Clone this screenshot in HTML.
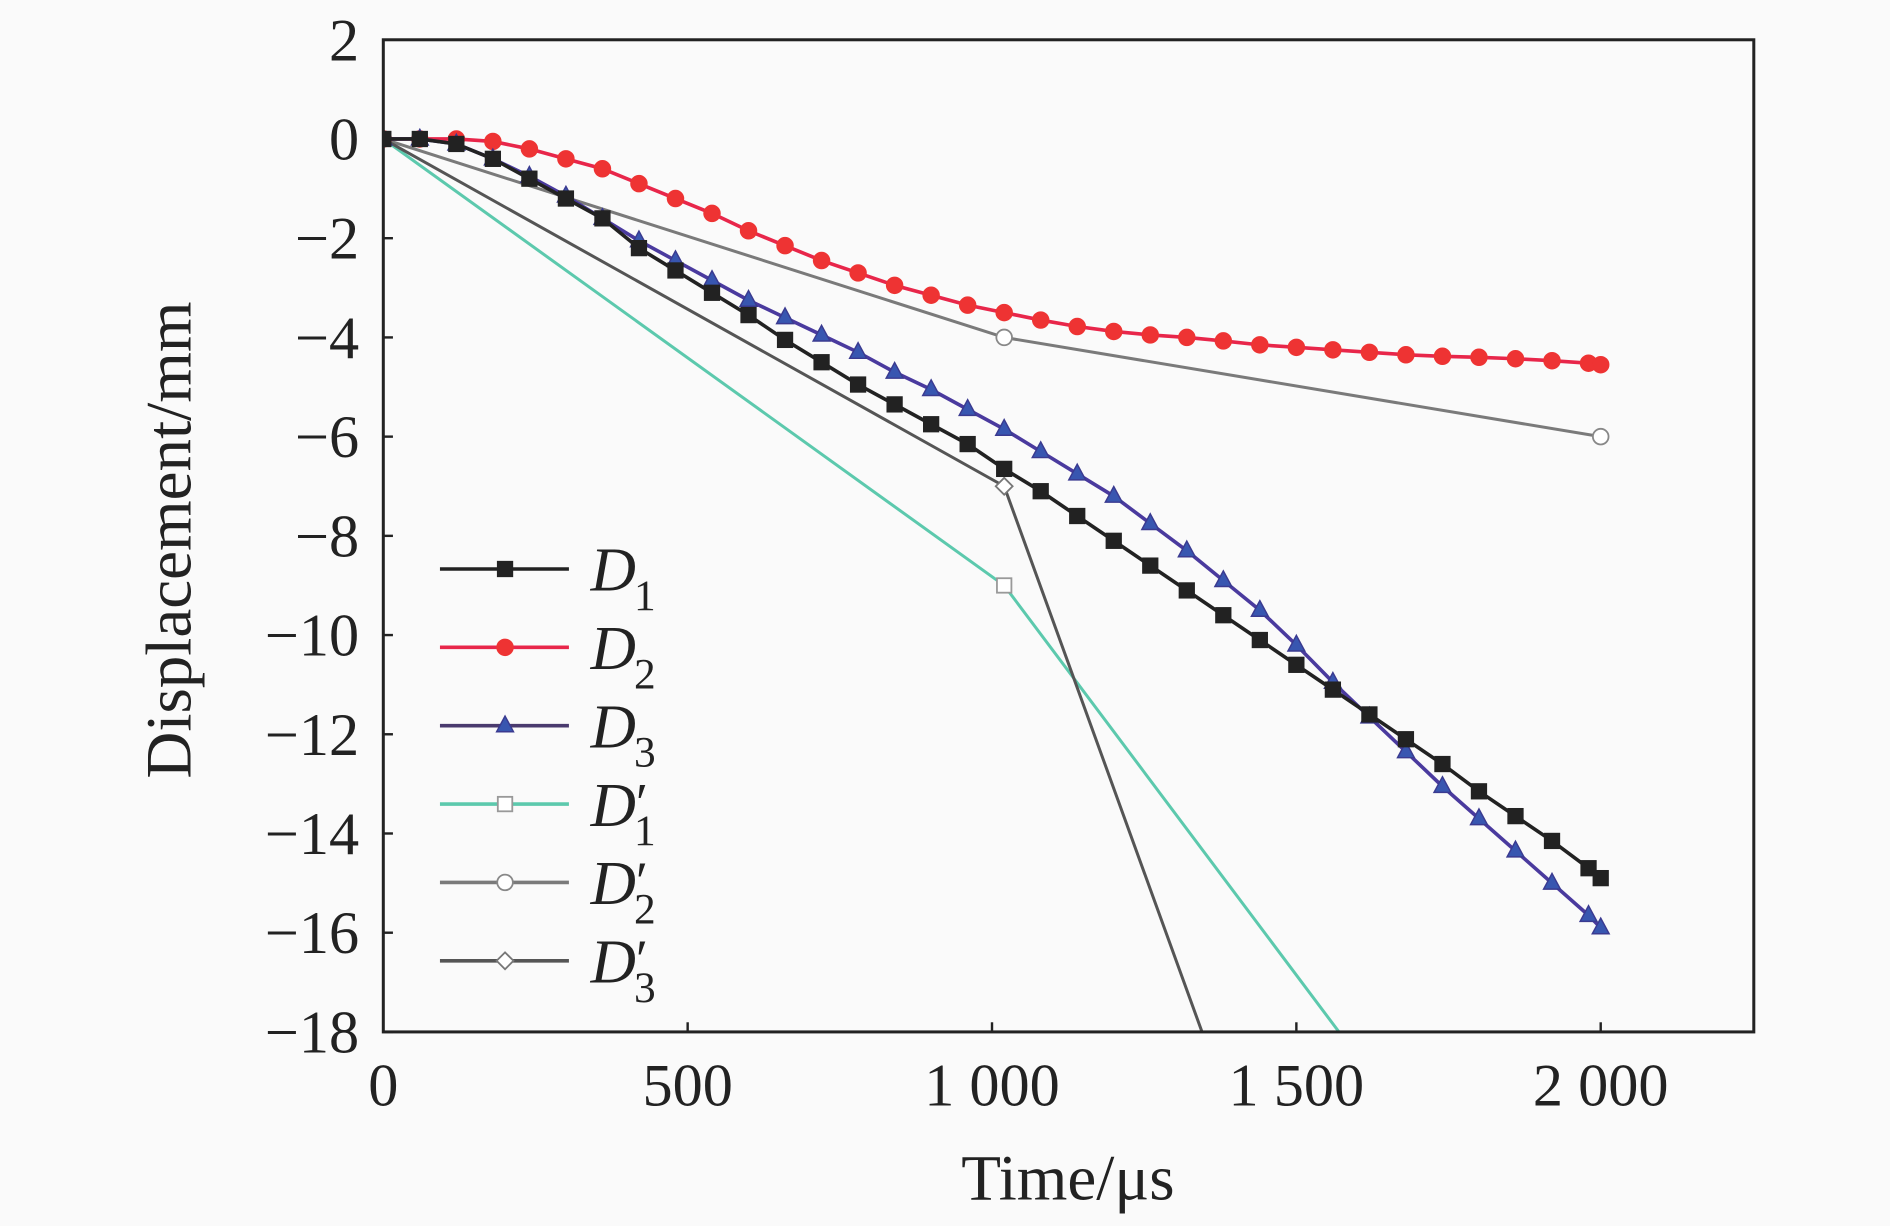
<!DOCTYPE html>
<html><head><meta charset="utf-8"><style>
html,body{margin:0;padding:0;background:#fafafa;}
svg{display:block;}
text{font-family:"Liberation Serif",serif;fill:#222;}
</style></head><body>
<svg id="chart" width="1890" height="1226" viewBox="0 0 1568 1017" preserveAspectRatio="none" xmlns="http://www.w3.org/2000/svg">
<rect width="1568" height="1017" fill="#fafafa"/>
<defs><clipPath id="pc"><rect x="318" y="33" width="1137" height="823"/></clipPath></defs>
<g id="series" clip-path="url(#pc)"></g>
<rect x="318" y="33" width="1137" height="823" fill="none" stroke="#222" stroke-width="2.5"/>
<g id="axes"></g>
<text transform="translate(158,448) rotate(-90)" font-size="54" text-anchor="middle">Displacement/mm</text>
<text x="886" y="995" font-size="54" text-anchor="middle">Time/μs</text>
<g id="legend"></g>
</svg>
<script>
const tD = [0,60,120,180,240,300,360,420,480,540,600,660,720,780,840,900,960,1020,1080,1140,1200,1260,1320,1380,1440,1500,1560,1620,1680,1740,1800,1860,1920,1980,2000];
const d1 = [0,0,-0.1,-0.4,-0.8,-1.2,-1.6,-2.2,-2.65,-3.1,-3.55,-4.05,-4.5,-4.95,-5.35,-5.75,-6.15,-6.65,-7.1,-7.6,-8.1,-8.6,-9.1,-9.6,-10.1,-10.6,-11.1,-11.6,-12.1,-12.6,-13.15,-13.65,-14.15,-14.7,-14.9];
const d2 = [0,0,0,-0.05,-0.2,-0.4,-0.6,-0.9,-1.2,-1.5,-1.85,-2.15,-2.45,-2.7,-2.95,-3.15,-3.35,-3.5,-3.65,-3.78,-3.88,-3.95,-4.0,-4.07,-4.15,-4.2,-4.25,-4.3,-4.35,-4.38,-4.4,-4.43,-4.47,-4.52,-4.55];
const d3 = [0,0,-0.1,-0.4,-0.75,-1.15,-1.6,-2.05,-2.45,-2.85,-3.25,-3.6,-3.95,-4.3,-4.7,-5.05,-5.45,-5.85,-6.3,-6.75,-7.2,-7.75,-8.3,-8.9,-9.5,-10.2,-10.95,-11.65,-12.35,-13.05,-13.7,-14.35,-15.0,-15.65,-15.9];
const t1p = [0,1020,1570]; const d1p = [0,-9,-18];
const t2p = [0,1020,2000]; const d2p = [0,-4,-6];
const t3p = [0,1020,1345]; const d3p = [0,-7,-18];
const xTicks = [0,500,1000,1500,2000];
const xTickLabels = ["0","500","1 000","1 500","2 000"];
const yTicks = [2,0,-2,-4,-6,-8,-10,-12,-14,-16,-18];
const yTickLabels = ["2","0","−2","−4","−6","−8","−10","−12","−14","−16","−18"];

const NS="http://www.w3.org/2000/svg";
const X = t => 318 + t*(1010/2000);
const Y = v => 33 + (2 - v)*(823/20);
function mk(tag, attrs, parent){const e=document.createElementNS(NS,tag);for(const k in attrs)e.setAttribute(k,attrs[k]);parent.appendChild(e);return e;}
const axes=document.getElementById('axes'), ser=document.getElementById('series'), leg=document.getElementById('legend');

xTicks.forEach((t,i)=>{
  const l=mk('line',{x1:X(t),x2:X(t),y1:856,y2:848,stroke:'#222','stroke-width':2},axes);
  
  
  const tx=mk('text',{x:X(t),y:917,'font-size':50,'text-anchor':'middle'},axes);
  tx.textContent=xTickLabels[i];
  
  
});
yTicks.forEach((v,i)=>{
  const l=mk('line',{x1:318,x2:326,y1:Y(v),y2:Y(v),stroke:'#222','stroke-width':2},axes);
  
  
  const tx=mk('text',{x:298,y:Y(v)+17,'font-size':50,'text-anchor':'end'},axes);
  tx.textContent=yTickLabels[i];
  
  
});

function marker(kind,x,y,fill,stroke,parent){
  let e;
  if(kind==='sq') e=mk('rect',{x:x-6,y:y-6,width:12,height:12,fill:fill,stroke:stroke,'stroke-width':1.5},parent);
  else if(kind==='ci') e=mk('circle',{cx:x,cy:y,r:6.5,fill:fill,stroke:stroke,'stroke-width':1.5},parent);
  else if(kind==='tr') e=mk('polygon',{points:`${x},${y-8} ${x+7},${y+5} ${x-7},${y+5}`,fill:fill,stroke:stroke,'stroke-width':1.2},parent);
  else if(kind==='di') e=mk('polygon',{points:`${x},${y-7} ${x+7},${y} ${x},${y+7} ${x-7},${y}`,fill:fill,stroke:stroke,'stroke-width':1.5},parent);
  else if(kind==='osq') e=mk('rect',{x:x-6,y:y-6,width:12,height:12,fill:fill,stroke:stroke,'stroke-width':1.5},parent);
  return e;
}
const series=[
 {name:'d1-prime',t:t1p,v:d1p,line:'#5cc9ad',w:2.5,m:'osq',mf:'#fff',ms:'#999',mi:[0,1]},
 {name:'d2-prime',t:t2p,v:d2p,line:'#7a7a7a',w:2.5,m:'ci',mf:'#fff',ms:'#888',mi:[0,1,2]},
 {name:'d3-prime',t:t3p,v:d3p,line:'#555',w:2.5,m:'di',mf:'#fff',ms:'#777',mi:[0,1]},
 {name:'d2',t:tD,v:d2,line:'#e8264a',w:3,m:'ci',mf:'#ee3333',ms:'#ee3333'},
 {name:'d3',t:tD,v:d3,line:'#4a3a9e',w:3,m:'tr',mf:'#3856b0',ms:'#3a3a90'},
 {name:'d1',t:tD,v:d1,line:'#222',w:3,m:'sq',mf:'#222',ms:'#222'}
];
series.forEach(s=>{
  const pl=mk('polyline',{points:s.t.map((t,i)=>X(t)+','+Y(s.v[i])).join(' '),fill:'none',stroke:s.line,'stroke-width':s.w},ser);
  
  
  const idx=s.mi||s.t.map((_,i)=>i);
  idx.forEach(i=>{
    const m=marker(s.m,X(s.t[i]),Y(s.v[i]),s.mf,s.ms,ser);
    
    
  });
});

const legItems=[
 {n:'d1',line:'#222',m:'sq',mf:'#222',ms:'#222',sub:'1',p:false},
 {n:'d2',line:'#e8264a',m:'ci',mf:'#ee3333',ms:'#ee3333',sub:'2',p:false},
 {n:'d3',line:'#4a3a6e',m:'tr',mf:'#3856b0',ms:'#3a3a90',sub:'3',p:false},
 {n:'d1-prime',line:'#5cc9ad',m:'osq',mf:'#fff',ms:'#999',sub:'1',p:true},
 {n:'d2-prime',line:'#7a7a7a',m:'ci',mf:'#fff',ms:'#888',sub:'2',p:true},
 {n:'d3-prime',line:'#555',m:'di',mf:'#fff',ms:'#777',sub:'3',p:true}
];
legItems.forEach((it,i)=>{
  const y=472+i*65;
  const g=mk('g',{},leg);
  
  
  mk('line',{x1:365,x2:472,y1:y,y2:y,stroke:it.line,'stroke-width':3},g);
  marker(it.m,419,y,it.mf,it.ms,g);
  const tx=mk('text',{x:490,y:y+18,'font-size':52,'font-style':'italic'},g);
  tx.textContent='D';
  if(it.p){const p=mk('tspan',{'font-style':'normal','font-size':46,dy:-4},tx);p.textContent='′';}
  const s=mk('tspan',{'font-style':'normal','font-size':36,x:526,dy:it.p?20:16},tx);
  s.textContent=it.sub;
});
</script>
</body></html>
